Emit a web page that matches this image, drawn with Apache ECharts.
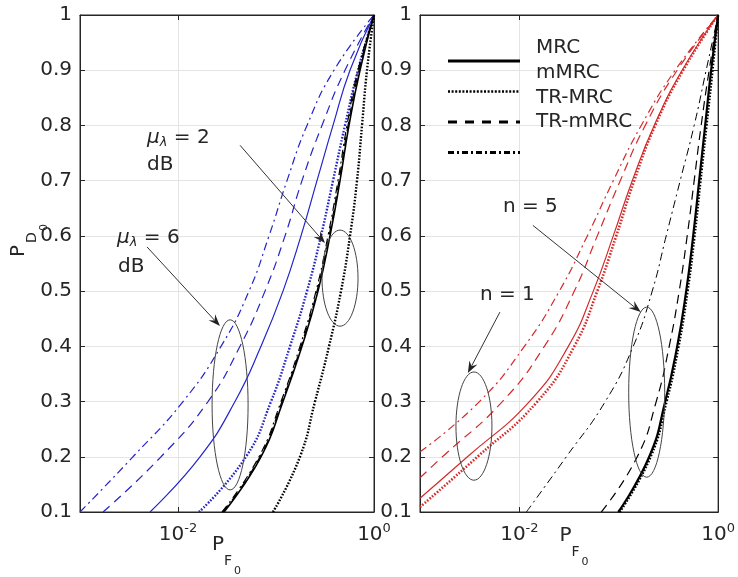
<!DOCTYPE html>
<html><head><meta charset="utf-8">
<script src="https://cdn.jsdelivr.net/npm/echarts@6/dist/echarts.min.js"></script>
<style>html,body{margin:0;padding:0;background:#fff}#c{width:738px;height:577px}</style>
</head><body><div id="c"></div><script>
// ---------- data (P_F values at given P_D levels) ----------
const PD = [0.1,0.2,0.3,0.4,0.5,0.6,0.7,0.8,0.9,1.0];
// Left panel, mu_lambda = 6 dB (blue)
const L6_MRC    = [0.005179,0.01677,0.03816,0.07028,0.1179,0.1799,0.2620,0.3816,0.5689,1];
const L6_mMRC   = [0.01638,0.04942,0.08891,0.1390,0.2072,0.2879,0.3816,0.5058,0.6867,1];
const L6_TRMRC  = [0.001717,0.006707,0.02024,0.04293,0.07722,0.1236,0.1842,0.2946,0.5058,1];
const L6_TRmMRC = [0.001,0.00347,0.01125,0.02747,0.05304,0.08485,0.1295,0.2072,0.3906,1];
// Left panel, mu_lambda = 2 dB (black)
const L2_MRC    = [0.02947,0.07028,0.1179,0.1842,0.2683,0.3556,0.4498,0.5557,0.7197,1];
const L2_mMRC   = [0.0932,0.1757,0.2500,0.3474,0.4605,0.5689,0.6707,0.7544,0.8483,1];
const L2_TRMRC  = [0.02878,0.06865,0.1151,0.1799,0.2621,0.3474,0.4393,0.5428,0.7030,1];
const L2_TRmMRC = [0.02811,0.06705,0.1125,0.1757,0.2560,0.3393,0.4291,0.5302,0.6867,1];
// Right panel, n = 1 (red)
const PD_N1_MRC    = [0.125,0.2,0.3,0.4,0.5,0.6,0.7,0.8,0.9,1];
const N1_MRC       = [0.001,0.003001,0.0126,0.03109,0.05542,0.08807,0.1367,0.2274,0.4346,1];
const PD_N1_mMRC   = [0.109,0.2,0.3,0.4,0.5,0.6,0.7,0.8,0.9,1];
const N1_mMRC      = [0.001,0.003784,0.01517,0.0357,0.06079,0.09438,0.1431,0.2327,0.4448,1];
const PD_N1_TRMRC  = [0.162,0.2,0.3,0.4,0.5,0.6,0.7,0.8,0.9,1];
const N1_TRMRC     = [0.001,0.001683,0.006747,0.01784,0.03571,0.06079,0.1035,0.1846,0.3872,1];
const PD_N1_TRmMRC = [0.209,0.3,0.4,0.5,0.6,0.7,0.8,0.9,1];
const N1_TRmMRC    = [0.001,0.003963,0.01123,0.02524,0.04825,0.08807,0.1683,0.3697,1];
// Right panel, n = 5 (black)
const N5_MRC    = [0.09886,0.2025,0.2933,0.3872,0.4770,0.5607,0.6443,0.7403,0.8505,1];
const N5_mMRC   = [0.1023,0.2097,0.3037,0.4009,0.4939,0.5805,0.6670,0.7664,0.8806,1];
const N5_TRMRC  = [0.0667,0.1535,0.2382,0.3218,0.4055,0.4882,0.5739,0.6748,0.8120,1];
const N5_TRmMRC = [0.01176,0.02967,0.07315,0.1398,0.2171,0.3001,0.4150,0.5739,0.7577,1];
// tick labels / legend
const Y_TICKS_MIN = 0.1, Y_TICKS_MAX = 1, Y_STEP = 0.1;
const X_TICK_EXPONENTS = [-2, 0];
const LEGEND_LABELS = ['MRC','mMRC','TR-MRC','TR-mMRC'];

// ---------- styles ----------
const FONT = 'DejaVu Sans', TXT = '#262626', GRIDC = '#e4e4e4';
const BLUE = '#2424c8', RED = '#d42a2a', BLK = '#000000';
const DASH = {MRC:'solid', mMRC:[1.6,1.6], TRMRC:[9,6], TRmMRC:[8,4,2,4]};

function ser(name, g, xs, ys, color, type, width, z){
  return {type:'line', name, xAxisIndex:g, yAxisIndex:g, data: xs.map((x,i)=>[x, ys[i]]),
    smooth:0.5, symbol:'none', showSymbol:false, animation:false, z: z||2,
    lineStyle:{color, width, type}};
}
function xAx(g){
  return {type:'log', logBase:100, gridIndex:g, min:0.001, max:1,
    axisLine:{show:true, onZero:false, lineStyle:{color:TXT,width:1}},
    axisTick:{show:true, inside:true, length:5, lineStyle:{color:TXT}},
    splitLine:{show:true, lineStyle:{color:GRIDC,width:1}},
    axisLabel:{showMinLabel:true, showMaxLabel:true, margin:10,
      formatter: v => { const e = Math.round(Math.log10(v)); return X_TICK_EXPONENTS.includes(e) ? '{b|10}{s|'+e+'}' : ''; },
      rich:{ b:{fontFamily:FONT,fontSize:20,color:TXT,lineHeight:26},
             s:{fontFamily:FONT,fontSize:13,color:TXT,verticalAlign:'top',lineHeight:12} } } };
}
function xTop(g){
  return {type:'log', logBase:100, gridIndex:g, min:0.001, max:1, position:'top',
    axisLine:{show:true, onZero:false, lineStyle:{color:TXT}}, axisTick:{show:true, inside:true, length:5, lineStyle:{color:TXT}},
    splitLine:{show:false}, axisLabel:{show:false}};
}
function yAx(g){
  return {type:'value', gridIndex:g, min:Y_TICKS_MIN, max:Y_TICKS_MAX, interval:Y_STEP,
    axisLine:{show:true, onZero:false, lineStyle:{color:TXT,width:1}},
    axisTick:{show:true, inside:true, length:5, lineStyle:{color:TXT}},
    splitLine:{show:true, lineStyle:{color:GRIDC,width:1}},
    axisLabel:{fontFamily:FONT, fontSize:20, color:TXT, margin:8, formatter: v => String(Math.round(v*10)/10)}};
}
function yRight(g){
  return {type:'value', gridIndex:g, min:Y_TICKS_MIN, max:Y_TICKS_MAX, interval:Y_STEP, position:'right',
    axisLine:{show:true, onZero:false, lineStyle:{color:TXT}}, axisTick:{show:true, inside:true, length:5, lineStyle:{color:TXT}},
    splitLine:{show:false}, axisLabel:{show:false}};
}

const chart = echarts.init(document.getElementById('c'), null, {renderer:'canvas'});
chart.setOption({
  backgroundColor:'#ffffff', animation:false,
  grid:[{left:80, top:15, width:294, height:497, show:true, borderColor:TXT, borderWidth:1},
        {left:420, top:15, width:299, height:497, show:true, borderColor:TXT, borderWidth:1}],
  xAxis:[xAx(0), xAx(1), xTop(0), xTop(1)],
  yAxis:[yAx(0), yAx(1), yRight(0), yRight(1)],
  series:[
    ser('MRC',0,L6_MRC,PD,BLUE,DASH.MRC,1.2),
    ser('mMRC',0,L6_mMRC,PD,BLUE,DASH.mMRC,2.4),
    ser('TR-MRC',0,L6_TRMRC,PD,BLUE,DASH.TRMRC,1.2),
    ser('TR-mMRC',0,L6_TRmMRC,PD,BLUE,DASH.TRmMRC,1.2),
    ser('MRC',0,L2_MRC,PD,BLK,DASH.MRC,1.6,3),
    ser('mMRC',0,L2_mMRC,PD,BLK,DASH.mMRC,2.4,3),
    ser('TR-MRC',0,L2_TRMRC,PD,BLK,DASH.TRMRC,1.2,3),
    ser('TR-mMRC',0,L2_TRmMRC,PD,BLK,DASH.TRmMRC,1.2,3),
    ser('MRC',1,N1_MRC,PD_N1_MRC,RED,DASH.MRC,1.2),
    ser('mMRC',1,N1_mMRC,PD_N1_mMRC,RED,DASH.mMRC,2.6),
    ser('TR-MRC',1,N1_TRMRC,PD_N1_TRMRC,RED,DASH.TRMRC,1.2),
    ser('TR-mMRC',1,N1_TRmMRC,PD_N1_TRmMRC,RED,DASH.TRmMRC,1.2),
    ser('MRC',1,N5_MRC,PD,BLK,DASH.MRC,2.2,3),
    ser('mMRC',1,N5_mMRC,PD,BLK,DASH.mMRC,2.2,3),
    ser('TR-MRC',1,N5_TRMRC,PD,BLK,DASH.TRMRC,1.2,3),
    ser('TR-mMRC',1,N5_TRmMRC,PD,BLK,DASH.TRmMRC,1.0,3)
  ]
});

// ---------- annotations (anchored in data coordinates) ----------
const ELLIPSES = [ {g:0, c:[0.034,0.294], hy:0.154, rx:18}, {g:0, c:[0.45,0.5235], hy:0.087, rx:18},
                   {g:1, c:[0.191,0.317], hy:0.154, rx:18}, {g:1, c:[0.00349,0.2556], hy:0.098, rx:18} ];
const ARROWS = [ {g:0, from:[0.043,0.764], to:[0.316,0.587]}, {g:0, from:[0.00483,0.58], to:[0.0268,0.4366]},
                 {g:1, from:[0.01368,0.619], to:[0.1663,0.462]}, {g:1, from:[0.00637,0.462], to:[0.00303,0.3515]} ];
const MU_LABELS = [ {g:0, at:[0.00483,0.7768], val:'2', db:[0.00483,0.728]}, {g:0, at:[0.00239,0.596], val:'6', db:[0.00244,0.5434]} ];
const N_LABELS = [ {g:1, at:[0.00683,0.652], text:'n = 5'}, {g:1, at:[0.00401,0.4927], text:'n = 1'} ];

const P = (g, d) => chart.convertToPixel({xAxisIndex:g, yAxisIndex:g}, d);
const gr = [];
const txt = (x, y, text, size, extra) => Object.assign({type:'text', x, y, silent:true,
  style:Object.assign({text, fontFamily:FONT, fontSize:size, fill:TXT, align:'left', verticalAlign:'middle'}, extra||{})});

ELLIPSES.forEach(e => { const c = P(e.g, e.c), t = P(e.g, [e.c[0], e.c[1]+e.hy]);
  gr.push({type:'ellipse', silent:true, shape:{cx:c[0], cy:c[1], rx:e.rx, ry:Math.abs(c[1]-t[1])}, style:{fill:null, stroke:'#444', lineWidth:1}, z:10}); });
ARROWS.forEach(a => { const p0 = P(a.g, a.from), p1 = P(a.g, a.to);
  const dx=p1[0]-p0[0], dy=p1[1]-p0[1], L=Math.hypot(dx,dy), ux=dx/L, uy=dy/L, nx=-uy, ny=ux, hl=12, hw=4.5;
  const b=[p1[0]-ux*hl, p1[1]-uy*hl], m=[p1[0]-ux*hl*0.65, p1[1]-uy*hl*0.65];
  gr.push({type:'line', silent:true, shape:{x1:p0[0],y1:p0[1],x2:m[0],y2:m[1]}, style:{stroke:'#333', lineWidth:1}, z:10});
  gr.push({type:'polygon', silent:true, shape:{points:[p1,[b[0]+nx*hw,b[1]+ny*hw],m,[b[0]-nx*hw,b[1]-ny*hw]]}, style:{fill:'#222'}, z:10}); });
MU_LABELS.forEach(l => { const p = P(l.g, l.at), q = P(l.g, l.db);
  gr.push(Object.assign(txt(p[0], p[1], '{m|μ}{s|λ}{t| = '+l.val+'}', 20, {
    rich:{ m:{fontFamily:FONT,fontSize:20,fontStyle:'italic',fill:TXT,lineHeight:22},
           s:{fontFamily:FONT,fontSize:13,fontStyle:'italic',fill:TXT,verticalAlign:'bottom',lineHeight:6},
           t:{fontFamily:FONT,fontSize:20,fill:TXT,lineHeight:22} } }), {z:11}));
  gr.push(Object.assign(txt(q[0], q[1], 'dB', 20), {z:11})); });
N_LABELS.forEach(l => { const p = P(l.g, l.at); gr.push(Object.assign(txt(p[0], p[1], l.text, 20), {z:11})); });

// axis titles
function pf(x0, y0){ return [txt(x0, y0, 'P', 20), txt(x0+12, y0+16, 'F', 14), txt(x0+22, y0+26, '0', 11)]; }
const g0 = P(0,[0.01,0.1]), g1 = P(1,[0.01,0.1]);
gr.push(...pf(g0[0]+34, g0[1]+33), ...pf(g1[0]+40, g1[1]+24));
gr.push({type:'group', x:19, y:257, rotation:Math.PI/2, children:[ txt(0,0,'P',20), txt(14,13,'D',14), txt(26,25,'0',11) ]});

// legend (right panel, upper left)
const gt = P(1,[0.001,1]);
const LEG_LINES = [ {t:'solid', w:3}, {t:[2,1.6], w:2.6}, {t:[9,8], w:3}, {t:[6,3,2,3], w:3} ];
LEG_LINES.forEach((s,i) => gr.push({type:'line', silent:true, shape:{x1:gt[0]+28, y1:gt[1]+46+i*30.5, x2:gt[0]+100, y2:gt[1]+46+i*30.5},
  style:{stroke:'#000', lineWidth:s.w, lineDash: s.t==='solid'?null:s.t}, z:12}));
LEGEND_LABELS.forEach((l,i) => gr.push(Object.assign(txt(gt[0]+116, gt[1]+33+i*24.7, l, 20), {z:12})));

chart.setOption({graphic: gr});
</script></body></html>
